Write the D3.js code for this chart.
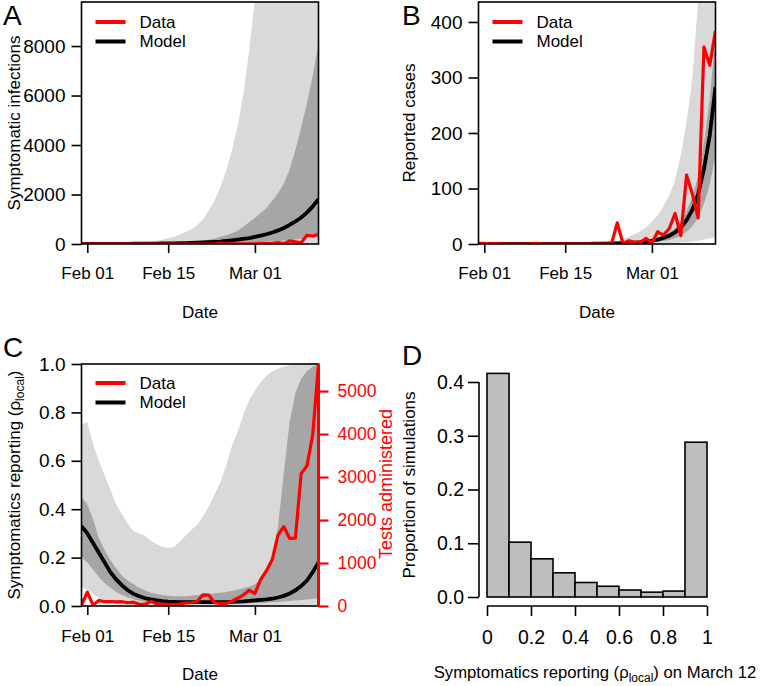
<!DOCTYPE html>
<html>
<head>
<meta charset="utf-8">
<script src="https://cdn.jsdelivr.net/npm/d3@7"></script>
<style>
  body { margin: 0; background: #fff; }
  svg { display: block; font-family: "Liberation Sans", Arial, Helvetica, sans-serif; }
</style>
</head>
<body>
<svg id="chart" width="762" height="686"></svg>
<script>
// Daily values from Jan 31 to Mar 12 (42 days)
const firstDay = "2020-01-31";
const lastDay = "2020-03-12";

// Panel A - symptomatic infections
const aMedian = [2,2,3,3,4,5,6,7,8,10,11,13,15,17,20,23,27,31,37,44,52,61,72,85,100,122,148,175,205,240,285,335,395,465,550,650,770,910,1070,1270,1520,1810];
const aDarkHi = [3,3,4,5,6,7,9,10,12,14,17,20,25,31,38,45,55,65,75,88,100,130,170,220,280,350,430,540,700,880,1050,1250,1450,1750,2050,2450,3000,3800,4700,5700,6800,8100];
const aDarkLo = [0,0,0,1,1,1,1,2,2,2,3,3,4,4,5,6,7,8,10,12,14,16,19,22,26,30,35,41,48,56,65,76,88,102,118,137,160,185,215,250,290,340];
const aLightHi = [5,6,8,10,13,16,20,25,31,40,52,70,95,130,175,230,290,380,480,600,760,1000,1330,1750,2280,2950,3750,4750,6050,7800,9900,12500,15500,19000,23000,28000,34000,41000,50000,60000,72000,86000];
const aLightLo = [0,0,0,0,0,0,0,0,0,0,0,0,0,0,0,0,0,0,0,0,0,0,0,0,0,0,0,0,0,0,1,1,2,2,3,4,5,6,8,10,12,15];

// Panel B - reported cases (also drawn as the data line in A)
const reportedCases = [1,1,0,1,0,0,0,0,0,0,1,0,0,0,0,0,0,0,0,0,0,0,0,0,38,1,6,3,3,10,2,22,16,28,55,15,124,90,47,355,322,384];
const bMedian = [0.03,0.03,0.04,0.04,0.05,0.06,0.07,0.08,0.09,0.1,0.12,0.14,0.16,0.18,0.2,0.23,0.26,0.3,0.34,0.39,0.45,0.55,0.7,0.9,1.15,1.5,2,2.6,3.4,4.5,6,8,11,15,21,30,43,62,90,135,195,283];
const bDarkHi = [0.05,0.05,0.06,0.06,0.07,0.08,0.1,0.11,0.13,0.14,0.17,0.2,0.22,0.25,0.28,0.32,0.37,0.42,0.48,0.55,0.63,0.77,0.98,1.26,1.6,2.1,2.8,3.6,4.7,6.2,8.3,11,15,21,29,41,59,85,122,182,262,375];
const bDarkLo = [0.01,0.01,0.02,0.02,0.02,0.03,0.03,0.04,0.05,0.05,0.06,0.07,0.08,0.09,0.1,0.11,0.13,0.15,0.17,0.19,0.22,0.27,0.34,0.44,0.56,0.73,0.97,1.3,1.7,2.2,2.9,3.9,5.4,7.4,10.5,15,22,32,47,72,107,160];
const bLightHi = [0.3,0.3,0.35,0.4,0.45,0.5,0.55,0.6,0.7,0.8,0.9,1,1.1,1.2,1.4,1.6,1.8,2,2.3,2.7,3.1,3.6,4.3,5,6,9,13,18,23,30,40,52,68,88,115,160,220,300,440,600,800,1050];
const bLightLo = [0,0,0,0,0,0,0,0,0,0,0,0,0,0,0,0,0,0,0.01,0.01,0.02,0.02,0.03,0.04,0.05,0.07,0.1,0.14,0.2,0.3,0.5,0.7,1,1.3,1.8,2.5,3.3,4.5,6,8,10,13];

// Panel C - symptomatics reporting and tests administered
const cMedian = [0.33,0.30,0.26,0.22,0.18,0.14,0.11,0.085,0.065,0.05,0.04,0.032,0.027,0.023,0.02,0.018,0.017,0.016,0.016,0.016,0.016,0.016,0.016,0.016,0.016,0.016,0.017,0.018,0.019,0.021,0.023,0.025,0.027,0.03,0.035,0.042,0.052,0.065,0.082,0.105,0.14,0.18];
const cDarkHi = [0.45,0.42,0.36,0.28,0.23,0.19,0.155,0.125,0.105,0.09,0.075,0.065,0.055,0.05,0.045,0.042,0.04,0.04,0.04,0.042,0.045,0.048,0.05,0.052,0.055,0.058,0.062,0.067,0.073,0.08,0.09,0.11,0.14,0.2,0.33,0.55,0.76,0.88,0.94,0.97,0.99,1.0];
const cDarkLo = [0.2,0.18,0.15,0.12,0.095,0.075,0.058,0.045,0.035,0.028,0.022,0.018,0.015,0.013,0.012,0.011,0.01,0.01,0.01,0.01,0.01,0.01,0.01,0.01,0.01,0.01,0.01,0.01,0.01,0.01,0.011,0.012,0.013,0.015,0.017,0.019,0.021,0.023,0.025,0.027,0.03,0.032];
const cLightHi = [0.75,0.76,0.67,0.60,0.54,0.48,0.42,0.38,0.34,0.31,0.30,0.29,0.27,0.255,0.245,0.24,0.245,0.265,0.29,0.315,0.335,0.37,0.41,0.46,0.51,0.58,0.66,0.72,0.79,0.85,0.89,0.925,0.95,0.97,0.98,0.99,0.995,1,1,1,1,1];
const cLightLo = [0.075,0.068,0.05,0.033,0.021,0.013,0.008,0.005,0.004,0.003,0.002,0.002,0.002,0.002,0.002,0.002,0.002,0.002,0.002,0.002,0.002,0.002,0.002,0.002,0.002,0.002,0.002,0.002,0.002,0.002,0.002,0.002,0.002,0.002,0.002,0.002,0.002,0.002,0.002,0.002,0.002,0.002];
const testsAdministered = [20,320,20,130,100,105,95,100,75,90,40,40,105,50,45,30,30,45,70,75,110,260,255,75,60,60,110,180,255,370,290,620,820,1080,1650,1845,1575,1580,3080,3260,3980,5630];

// Panel D - histogram of reporting on March 12
const rhoBins = [0,0.1,0.2,0.3,0.4,0.5,0.6,0.7,0.8,0.9,1.0];
const rhoProportion = [0.416,0.102,0.071,0.045,0.027,0.020,0.013,0.009,0.011,0.288];

// Tick labels
const dateTicks = ["2020-02-01","2020-02-15","2020-03-01"];
const aTicks = [0,2000,4000,6000,8000];
const bTicks = [0,100,200,300,400];
const cTicks = [0,0.2,0.4,0.6,0.8,1.0];
const testTicks = [0,1000,2000,3000,4000,5000];
const dYTicks = [0,0.1,0.2,0.3,0.4];
const dXTicks = [0,0.2,0.4,0.6,0.8,1];

const parse = d3.utcParse("%Y-%m-%d");
const dates = d3.utcDay.range(parse(firstDay), d3.utcDay.offset(parse(lastDay), 1));
const svg = d3.select("#chart");

const LIGHT = "#d9d9d9", DARK = "#a6a6a6";
const FS = 17;      // titles, legend, date labels
const NUM = 19;     // numeric tick labels

function styleAxis(a, color, size) {
  a.attr("font-size", size || FS).attr("font-family", null).attr("color", color || "#000");
  a.selectAll(".tick line").attr("stroke-width", 1.6);
}

function timePanel(o) {
  const g = svg.append("g");
  const x = d3.scaleUtc().domain([dates[0], dates[dates.length - 1]]).range([o.left, o.right]);
  const y = d3.scaleLinear().domain([0, o.yMax]).range([o.bottom, o.top]);

  const clipId = "clip" + o.name;
  svg.append("clipPath").attr("id", clipId).append("rect")
    .attr("x", o.left).attr("y", o.top).attr("width", o.right - o.left).attr("height", o.bottom - o.top);
  const plot = g.append("g").attr("clip-path", `url(#${clipId})`);

  const band = (lo, hi) => d3.area()
    .x((d, i) => x(dates[i])).y0((d, i) => y(lo[i])).y1((d, i) => y(hi[i]))(dates);
  plot.append("path").attr("d", band(o.lightLo, o.lightHi)).attr("fill", LIGHT);
  plot.append("path").attr("d", band(o.darkLo, o.darkHi)).attr("fill", DARK);

  const line = d3.line().x((d, i) => x(dates[i])).y(d => y(d));
  plot.append("path").attr("d", line(o.median)).attr("fill", "none")
    .attr("stroke", "#000").attr("stroke-width", 3.8);
  if (o.data) {
    const yd = o.yData || y;
    const dl = d3.line().x((d, i) => x(dates[i])).y(d => yd(d));
    plot.append("path").attr("d", dl(o.data)).attr("fill", "none")
      .attr("stroke", "#ff0000").attr("stroke-width", 3.2).attr("stroke-linejoin", "round");
  }

  g.append("rect").attr("x", o.left).attr("y", o.top)
    .attr("width", o.right - o.left).attr("height", o.bottom - o.top)
    .attr("fill", "none").attr("stroke", "#000").attr("stroke-width", 1.6);

  g.append("g").attr("transform", `translate(0,${o.bottom})`)
    .call(d3.axisBottom(x).tickValues(dateTicks.map(parse)).tickSize(9).tickPadding(o.xPad)
      .tickFormat(d3.utcFormat("%b %d")))
    .call(a => a.select(".domain").remove())
    .call(a => styleAxis(a));

  g.append("g").attr("transform", `translate(${o.left},0)`)
    .call(d3.axisLeft(y).tickValues(o.yTicks).tickSize(10).tickPadding(6).tickFormat(o.yFormat))
    .call(a => a.select(".domain").remove())
    .call(a => styleAxis(a, "#000", NUM));

  // legend
  const lg = g.append("g");
  [["Data", "#ff0000", o.legendY], ["Model", "#000", o.legendY + 19.5]].forEach(([t, c, ly]) => {
    lg.append("line").attr("x1", o.left + 14).attr("x2", o.left + 44).attr("y1", ly).attr("y2", ly)
      .attr("stroke", c).attr("stroke-width", 4);
    lg.append("text").attr("x", o.left + 58).attr("y", ly).attr("dy", "0.35em")
      .attr("font-size", FS).text(t);
  });

  g.append("text").attr("x", (o.left + o.right) / 2).attr("y", o.dateY)
    .attr("text-anchor", "middle").attr("font-size", FS).text("Date");

  return { g, x, y };
}

function rotLabel(x, y, color) {
  return svg.append("text").attr("transform", `translate(${x},${y}) rotate(-90)`)
    .attr("text-anchor", "middle").attr("font-size", FS).attr("fill", color || "#000");
}
function rhoLocal(t, before, after) {
  t.append("tspan").text(before + "(\u03c1");
  t.append("tspan").attr("font-size", 12).attr("dy", 4).text("local");
  t.append("tspan").attr("dy", -4).text(")" + after);
}
function letter(t, x, y) {
  svg.append("text").attr("x", x).attr("y", y).attr("font-size", 28).text(t);
}

// Panel A
timePanel({ name: "A", left: 81.5, right: 318.5, top: 2, bottom: 244, yMax: 9780,
  median: aMedian, darkLo: aDarkLo, darkHi: aDarkHi, lightLo: aLightLo, lightHi: aLightHi,
  data: reportedCases, yTicks: aTicks, yFormat: d3.format("d"), xPad: 14, legendY: 22, dateY: 318 });
rotLabel(20, 123).text("Symptomatic infections");
letter("A", 3, 25);

// Panel B
timePanel({ name: "B", left: 478.5, right: 715.5, top: 2, bottom: 244, yMax: 436,
  median: bMedian, darkLo: bDarkLo, darkHi: bDarkHi, lightLo: bLightLo, lightHi: bLightHi,
  data: reportedCases, yTicks: bTicks, yFormat: d3.format("d"), xPad: 14, legendY: 22, dateY: 318 });
rotLabel(415, 123).text("Reported cases");
letter("B", 402, 25);

// Panel C
const yTests = d3.scaleLinear().domain([0, d3.max(testsAdministered)]).range([606, 364]);
const pc = timePanel({ name: "C", left: 81.5, right: 318.5, top: 364, bottom: 606, yMax: 1,
  median: cMedian, darkLo: cDarkLo, darkHi: cDarkHi, lightLo: cLightLo, lightHi: cLightHi,
  data: testsAdministered, yData: yTests, yTicks: cTicks, yFormat: d3.format(".1f"),
  xPad: 15, legendY: 383, dateY: 680 });
pc.g.append("g").attr("transform", "translate(318.5,0)")
  .call(d3.axisRight(yTests).tickValues(testTicks).tickSize(10).tickPadding(9).tickFormat(d3.format("d")))
  .call(a => a.select(".domain").attr("d", "M0,364V606").attr("stroke-width", 3).attr("stroke", "#ff0000"))
  .call(a => styleAxis(a, "#ff0000", 17.5))
  .call(a => a.selectAll(".tick line").attr("stroke-width", 2.2));
rhoLocal(rotLabel(20, 485), "Symptomatics reporting ", "");
rotLabel(392, 484, "#ff0000").attr("font-size", 18).text("Tests administered");
letter("C", 3, 357);

// Panel D
const xD = d3.scaleLinear().domain([0, 1]).range([487, 707]);
const yD = d3.scaleLinear().domain([0, 0.4]).range([597, 382]);
const gD = svg.append("g");
gD.selectAll("rect.bar").data(rhoProportion).join("rect").attr("class", "bar")
  .attr("x", (d, i) => xD(rhoBins[i])).attr("width", (d, i) => xD(rhoBins[i + 1]) - xD(rhoBins[i]))
  .attr("y", d => yD(d)).attr("height", d => yD(0) - yD(d))
  .attr("fill", "#bebebe").attr("stroke", "#000").attr("stroke-width", 1.6);
gD.append("g").attr("transform", "translate(0,606)")
  .call(d3.axisBottom(xD).tickValues(dXTicks).tickSize(10).tickPadding(14).tickSizeOuter(0)
    .tickFormat(d3.format("~g")))
  .call(a => a.select(".domain").attr("d", `M${xD(0)},0H${xD(1)}`).attr("stroke-width", 1.6))
  .call(a => styleAxis(a, "#000", 19.5));
gD.append("g").attr("transform", "translate(479,0)")
  .call(d3.axisLeft(yD).tickValues(dYTicks).tickSize(11).tickPadding(4).tickSizeOuter(0)
    .tickFormat(d3.format(".1f")))
  .call(a => a.select(".domain").attr("d", `M0,${yD(0)}V${yD(0.4)}`).attr("stroke-width", 1.6))
  .call(a => styleAxis(a, "#000", 19.5));
rotLabel(415, 485).text("Proportion of simulations");
const dx = svg.append("text").attr("x", 595).attr("y", 678).attr("text-anchor", "middle").attr("font-size", 16.7);
rhoLocal(dx, "Symptomatics reporting ", " on March 12");
letter("D", 402, 365);
</script>
</body>
</html>
